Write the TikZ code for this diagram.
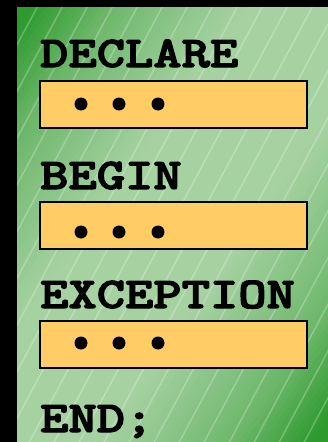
\documentclass[tikz,border=0pt]{standalone}
\usepackage{graphicx}
\usepackage{fontspec}
\newfontfamily\kwfont{lmmonolt10-bold.otf}[FakeBold=2.5]
\definecolor{dkgreen}{HTML}{2E9A2E}
\definecolor{ltgreen}{HTML}{A6D2A2}
\definecolor{boxfill}{HTML}{FFCC66}
\tikzset{
  kw/.style={anchor=base west, inner sep=0pt, font=\kwfont\fontsize{44}{44}\selectfont, text=black},
  codebox/.style={draw=black, line width=2pt, fill=boxfill, minimum width=267pt, minimum height=47pt, anchor=north west, inner sep=0pt},
  dot/.style={circle, fill=black, inner sep=0pt, minimum size=13pt},
  stripe/.style={white, opacity=0.25, line width=1.5pt},
}
\newcommand{\kwtext}[1]{\scalebox{1.225}[1]{#1}}
\begin{document}
\begin{tikzpicture}[x=1pt,y=-1pt]
\useasboundingbox (0,0) rectangle (328,442);
\fill[black] (0,0) rectangle (328,442);
\begin{scope}
  \clip (17,7) rectangle (328,442);
  \foreach \t in {-275,-270,...,270} {
    \pgfmathsetmacro\u{abs(\t+2.5)}
    \pgfmathsetmacro\p{\u<65 ? 0 : (\u<175 ? 47.5*(\u-65)/110 : min(100,47.5+52.5*(\u-175)/65))}
    \fill[dkgreen!\p!ltgreen]
      ({172.5+\t*0.8135-320*0.5816},{224.5+\t*0.5816+320*0.8135}) --
      ({172.5+\t*0.8135+320*0.5816},{224.5+\t*0.5816-320*0.8135}) --
      ({172.5+(\t+5.6)*0.8135+320*0.5816},{224.5+(\t+5.6)*0.5816-320*0.8135}) --
      ({172.5+(\t+5.6)*0.8135-320*0.5816},{224.5+(\t+5.6)*0.5816+320*0.8135}) -- cycle;
  }
  \foreach \a in {-275,-250,...,350} {
    \draw[stripe] (\a,450) -- (\a+241,0);
  }
\end{scope}
\node[kw] (declare) at (40,67) {\kwtext{DECLARE}};
\node[codebox] (box1) at (39,80) {};
\node[dot] (d11) at (81,104) {};
\node[dot] (d12) at (119,104) {};
\node[dot] (d13) at (158,104) {};
\node[kw] (begin) at (40,189) {\kwtext{BEGIN}};
\node[codebox] (box2) at (39,201) {};
\node[dot] (d21) at (81,232) {};
\node[dot] (d22) at (119,232) {};
\node[dot] (d23) at (158,232) {};
\node[kw] (exception) at (40,308) {\kwtext{EXCEPTION}};
\node[codebox] (box3) at (39,320) {};
\node[dot] (d31) at (81,343) {};
\node[dot] (d32) at (119,343) {};
\node[dot] (d33) at (158,343) {};
\node[kw] (end) at (40,432) {\kwtext{END;}};
\end{tikzpicture}
\end{document}
